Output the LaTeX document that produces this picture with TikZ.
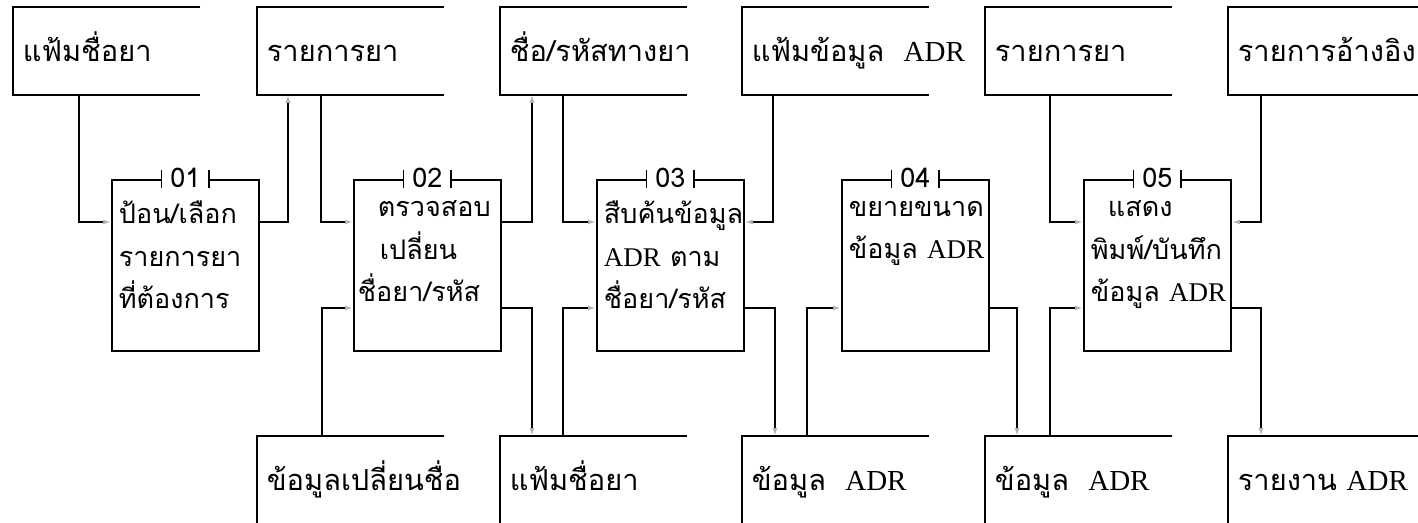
\documentclass[tikz,border=0pt]{standalone}
\usepackage{fontspec}
\newfontfamily\thaifont[Script=Thai]{Loma}
\newfontfamily\adrfont{Liberation Serif}
\newcommand\adr{{\adrfont ADR}}
\usetikzlibrary{arrows.meta}

\tikzset{
  store/.style={anchor=north west, minimum height=43pt,
    inner sep=4.5pt, text width=110pt, align=left, text height=13pt, text depth=2pt,
    font=\thaifont\fontsize{14.5}{18}\selectfont},
  procbox/.style={draw, anchor=north west, minimum width=73.5pt, minimum height=85.5pt},
  proctext/.style={anchor=north west, inner sep=0pt, align=left,
    execute at begin node={\rule{0pt}{16pt}},
    font=\thaifont\fontsize{13.5}{21.25}\selectfont},
  numtag/.style={fill=white, inner sep=0pt, minimum width=23pt, text height=8.5pt,
    text depth=0pt, font=\thaifont\fontsize{13.5}{13.5}\selectfont},
  flow/.style={-{Latex[length=4pt,width=2.5pt,color=black!30]}},
}

\begin{document}
\begin{tikzpicture}[x=0.5pt, y=-0.5pt, line width=0.9pt]
\useasboundingbox (0,0) rectangle (1418,523);

\node[store] (t1) at (13,7) {แฟ้มชื่อยา};
\node[store] (t2) at (257,7) {รายการยา};
\node[store] (t3) at (500,7) {ชื่อ/รหัสทางยา};
\node[store] (t4) at (742,7) {แฟ้มข้อมูล~~\adr};
\node[store] (t5) at (985,7) {รายการยา};
\node[store] (t6) at (1228,7) {รายการอ้างอิง};

\node[store] (b2) at (257,436) {ข้อมูลเปลี่ยนชื่อ};
\node[store] (b3) at (500,436) {แฟ้มชื่อยา};
\node[store] (b4) at (742,436) {ข้อมูล~~\adr};
\node[store] (b5) at (985,436) {ข้อมูล~~\adr};
\node[store] (b6) at (1228,436) {รายงาน~\adr};

\foreach \s/\w in {t1/93.5,t2/93.5,t3/93.5,t4/93.5,t5/93.5,t6/96,
                   b2/93.5,b3/93.5,b4/93.5,b5/93.5,b6/96}
  \draw ([xshift=\w pt]\s.north west) -- (\s.north west) -- (\s.south west) -- ++(\w pt,0);

\node[procbox] (p1) at (111,179) {};
\node[procbox] (p2) at (353,179) {};
\node[procbox] (p3) at (596,179) {};
\node[procbox] (p4) at (841,179) {};
\node[procbox] (p5) at (1083,179) {};

\node[proctext] (p1t) at ([xshift=3.5pt, yshift=-10.5pt]p1.north west)
  {ป้อน/เลือก\\รายการยา\\ที่ต้องการ};
\node[proctext] (p2t) at ([xshift=2pt, yshift=-10.5pt]p2.north west)
  {\hspace*{10pt}ตรวจสอบ\\\hspace*{11pt}เปลี่ยน\\ชื่อยา/รหัส};
\node[proctext] (p3t) at ([xshift=3.5pt, yshift=-10.5pt]p3.north west)
  {สืบค้นข้อมูล\\\adr{} ตาม\\ชื่อยา/รหัส};
\node[proctext] (p4t) at ([xshift=3.5pt, yshift=-10.5pt]p4.north west)
  {ขยายขนาด\\ข้อมูล~\adr};
\node[proctext] (p5t) at ([xshift=3.5pt, yshift=-10.5pt]p5.north west)
  {\hspace*{8.5pt}แสดง\\พิมพ์/บันทึก\\ข้อมูล~\adr};

\foreach \p/\n in {p1/01,p2/02,p3/03,p4/04,p5/05} {
  \node[numtag] (n\p) at (\p.north) {\n};
  \draw (n\p.north west) -- (n\p.south west) (n\p.north east) -- (n\p.south east);
}

\coordinate (up) at (0,222);
\coordinate (lo) at (0,308);

\draw[flow] ([xshift=33pt]t1.south west) |- (p1.west |- up);
\draw[flow] (p1.east |- up) -| ([xshift=15.5pt]t2.south west);
\draw[flow] ([xshift=32pt]t2.south west) |- (p2.west |- up);
\draw[flow] ([xshift=32.5pt]b2.north west) |- (p2.west |- lo);
\draw[flow] (p2.east |- up) -| ([xshift=16pt]t3.south west);
\draw[flow] ([xshift=31.5pt]t3.south west) |- (p3.west |- up);
\draw[flow] (p2.east |- lo) -| ([xshift=16pt]b3.north west);
\draw[flow] ([xshift=31.5pt]b3.north west) |- (p3.west |- lo);
\draw[flow] ([xshift=15.5pt]t4.south west) |- (p3.east |- up);
\draw[flow] (p3.east |- lo) -| ([xshift=16.5pt]b4.north west);
\draw[flow] ([xshift=32.5pt]b4.north west) |- (p4.west |- lo);
\draw[flow] (p4.east |- lo) -| ([xshift=16pt]b5.north west);
\draw[flow] ([xshift=32.5pt]b5.north west) |- (p5.west |- lo);
\draw[flow] ([xshift=32.5pt]t5.south west) |- (p5.west |- up);
\draw[flow] ([xshift=16.5pt]t6.south west) |- (p5.east |- up);
\draw[flow] (p5.east |- lo) -| ([xshift=16.5pt]b6.north west);
\end{tikzpicture}
\end{document}
